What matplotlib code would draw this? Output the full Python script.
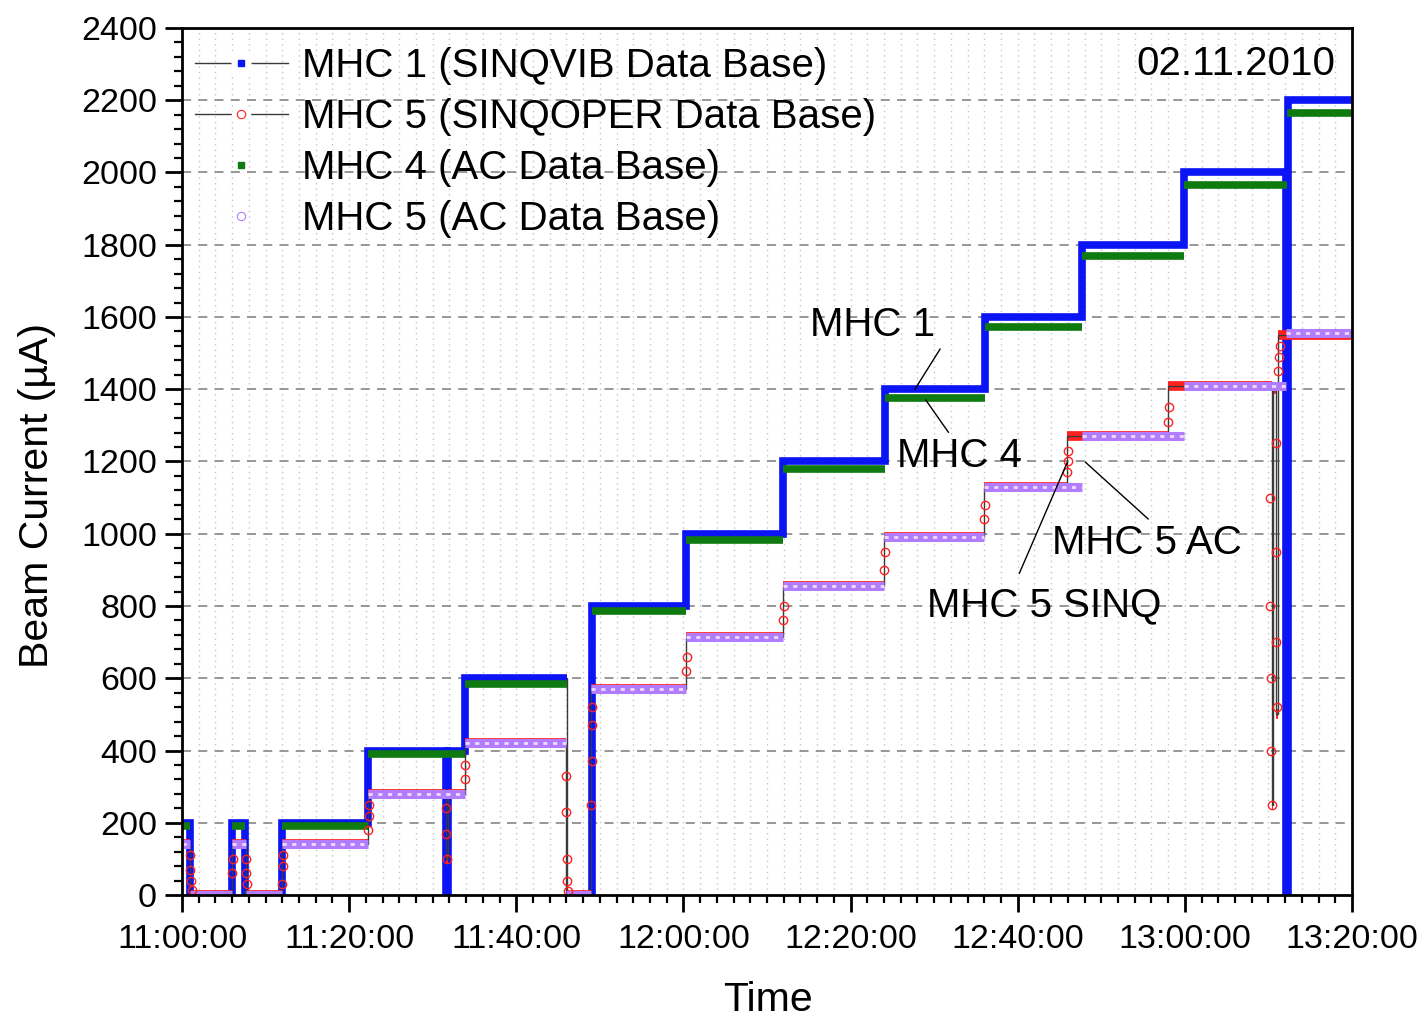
import matplotlib
matplotlib.use("Agg")
import matplotlib.pyplot as plt
from matplotlib.lines import Line2D
from matplotlib.ticker import MultipleLocator, FuncFormatter

plt.rcParams['font.family'] = ['Liberation Sans', 'DejaVu Sans']

# time axis in minutes after 11:00:00, beam current in uA

# MHC 1 (SINQVIB): step edges and levels between them
mhc1_edges = [0, 1.0, 6.0, 7.5, 12.0, 22.3, 31.6, 31.8, 33.9, 46.1, 49.0, 60.3,
              71.9, 84.1, 96.1, 107.7, 119.9, 132.1, 132.3, 140]
mhc1_vals = [200, 0, 200, 0, 200, 400, 0, 400, 600, 0, 800, 1000,
             1200, 1400, 1600, 1800, 2000, 0, 2200]
mhc1_sparse_drop = 46.1   # drop recorded without intermediate samples

# MHC 4 (AC)
mhc4_edges = [0, 1.0, 6.0, 7.5, 12.0, 22.3, 33.9, 46.1, 49.0, 60.3, 71.9, 84.1,
              96.1, 107.7, 119.9, 132.2, 140]
mhc4_vals = [190, 0, 190, 0, 190, 390, 585, 0, 785, 982, 1178, 1375,
             1572, 1770, 1965, 2165]

# MHC 5 (SINQOPER)
sinq_edges = [0, 1.0, 6.0, 7.6, 12.0, 22.3, 31.6, 31.8, 33.9, 46.0, 48.9, 60.3,
              71.9, 84.0, 96.0, 105.9, 118.0, 130.4, 130.6, 130.9, 131.1, 140]
sinq_vals = [140, 0, 140, 0, 140, 280, 100, 280, 420, 0, 570, 715,
             855, 990, 1130, 1270, 1410, 250, 1400, 500, 1550]
# isolated SINQOPER samples on the ramps
sinq_ramp_t = [1.0, 1.0, 1.1, 1.2, 6.0, 6.1, 7.6, 7.7, 7.8, 12.0, 12.1, 12.1,
               22.3, 22.4, 22.4, 31.6, 31.6, 31.7, 33.9, 33.9,
               46.0, 46.0, 46.1, 46.1, 46.2, 48.9, 49.0, 49.0, 49.1,
               60.3, 60.4, 71.9, 72.0, 84.0, 84.1, 96.0, 96.1,
               105.9, 106.0, 106.0, 118.0, 118.1,
               130.2, 130.2, 130.3, 130.3, 130.4, 130.9, 130.9, 130.9, 131.0,
               131.2, 131.3, 131.4]
sinq_ramp_v = [110, 70, 40, 15, 60, 100, 100, 60, 30, 30, 80, 110,
               180, 220, 250, 240, 170, 100, 320, 360,
               330, 230, 100, 40, 10, 250, 370, 470, 520,
               620, 660, 760, 800, 900, 950, 1040, 1080,
               1170, 1200, 1230, 1310, 1350,
               1100, 800, 600, 400, 250, 1250, 950, 700, 520,
               1450, 1490, 1520]

# MHC 5 (AC)
ac_edges = [0, 1.0, 6.0, 7.6, 12.0, 22.3, 33.9, 46.0, 48.9, 60.3, 71.9, 84.0,
            96.0, 107.7, 119.9, 132.1, 140]
ac_vals = [140, 0, 140, 0, 140, 280, 420, 0, 570, 715, 855, 990,
           1130, 1270, 1410, 1555]

BLUE = '#0a14f5'
GREEN = '#0f7a0f'
RED = '#ff2020'
PURPLE = '#b27cff'
LINE = '#3a3a3a'

fig, ax = plt.subplots(figsize=(14.22, 10.21), dpi=100)
fig.subplots_adjust(left=0.128, right=0.9508, bottom=0.1234, top=0.9726)

# grid
for m in range(0, 141, 2):
    ax.axvline(m, color='#c4c4c4', lw=1, dashes=(1, 3), zorder=0.5)
for v in range(200, 2400, 200):
    ax.axhline(v, color='#8f8f8f', lw=1.3, dashes=(5, 4), zorder=0.5)

# MHC 1: connecting line plus dense samples drawn as a thick step trace
ax.stairs(mhc1_vals, mhc1_edges, baseline=None, color=LINE, lw=1, zorder=1.9)
k = mhc1_edges.index(mhc1_sparse_drop)
ax.stairs(mhc1_vals[:k], mhc1_edges[:k + 1], baseline=None, color=BLUE, lw=5.5, zorder=2)
ax.stairs(mhc1_vals[k:], mhc1_edges[k:], baseline=None, color=BLUE, lw=5.5, zorder=2)

# MHC 4 plateaus
ax.hlines(mhc4_vals, mhc4_edges[:-1], mhc4_edges[1:], color=GREEN, lw=5.5, zorder=2.1)

# MHC 5 SINQOPER
ax.hlines(sinq_vals, sinq_edges[:-1], sinq_edges[1:], color=RED, lw=7, zorder=2.2)
ax.stairs(sinq_vals, sinq_edges, baseline=None, color=LINE, lw=1, zorder=2.25)

# MHC 5 AC: band of overlapping open circles
ax.hlines(ac_vals, ac_edges[:-1], ac_edges[1:], color=PURPLE, lw=6.5, zorder=2.3)
ax.hlines(ac_vals, ac_edges[:-1], ac_edges[1:], color='white', lw=2,
          linestyles=(0, (1.5, 2)), alpha=0.75, zorder=2.35)

ax.plot(sinq_ramp_t, sinq_ramp_v, 'o', ms=6, mfc='none', mec=RED, mew=1, zorder=2.4)

ax.set_xlim(0, 140)
ax.set_ylim(0, 2400)
ax.xaxis.set_major_locator(MultipleLocator(20))
ax.xaxis.set_minor_locator(MultipleLocator(2))
ax.yaxis.set_major_locator(MultipleLocator(200))
ax.yaxis.set_minor_locator(MultipleLocator(40))
ax.xaxis.set_major_formatter(FuncFormatter(
    lambda m, pos: f"{11 + int(round(m)) // 60:02d}:{int(round(m)) % 60:02d}:00"))

for s in ax.spines.values():
    s.set_linewidth(2)
ax.tick_params(which='major', direction='out', length=12, width=2, labelsize=24.5)
ax.tick_params(axis='y', which='major', pad=6)
ax.tick_params(axis='x', which='major', pad=9)
ax.tick_params(which='minor', direction='out', length=6, width=1.6)

ax.set_xlabel('Time', fontsize=29.5)
ax.set_ylabel('Beam Current (\u00b5A)', fontsize=29.5)
ax.xaxis.set_label_coords(0.501, -0.099)
ax.yaxis.set_label_coords(-0.108, 0.461)

ax.text(0.9855, 0.958, '02.11.2010', transform=ax.transAxes, ha='right', va='center',
        fontsize=29)

# curve labels with pointer lines
ax.text(75.1, 1578, 'MHC 1', fontsize=29, va='center')
ax.plot([90.7, 87.7], [1511, 1400], color='black', lw=1, zorder=3)
ax.text(85.6, 1215, 'MHC 4', fontsize=29, va='center')
ax.plot([91.7, 89.0], [1281, 1370], color='black', lw=1, zorder=3)
ax.text(104.1, 974, 'MHC 5 AC', fontsize=29, va='center')
ax.plot([115.6, 108.1], [1041, 1198], color='black', lw=1, zorder=3)
ax.text(89.1, 803, 'MHC 5 SINQ', fontsize=29, va='center')
ax.plot([100.2, 105.9], [891, 1196], color='black', lw=1, zorder=3)

# legend entries: line with a gap around the symbol
gap_sq = Line2D([], [], color=LINE, lw=1, marker='s', ms=14, mfc='white', mec='none')
gap_o = Line2D([], [], color=LINE, lw=1, marker='o', ms=14, mfc='white', mec='none')
handles = [
    (gap_sq, Line2D([], [], ls='none', marker='s', ms=4.5, mfc=BLUE, mec=BLUE)),
    (gap_o, Line2D([], [], ls='none', marker='o', ms=6, mfc='white', mec=RED, mew=0.8)),
    Line2D([], [], ls='none', marker='s', ms=4.5, mfc=GREEN, mec=GREEN),
    Line2D([], [], ls='none', marker='o', ms=6, mfc='white', mec=PURPLE, mew=0.8),
]
labels = ['MHC 1 (SINQVIB Data Base)', 'MHC 5 (SINQOPER Data Base)',
          'MHC 4 (AC Data Base)', 'MHC 5 (AC Data Base)']
ax.legend(handles, labels, loc='upper left', bbox_to_anchor=(0.011, 0.978),
          frameon=False, fontsize=29, handlelength=2.3, handletextpad=0.35,
          labelspacing=0.32, borderpad=0, borderaxespad=0)

fig.savefig('out.png', dpi=100)
